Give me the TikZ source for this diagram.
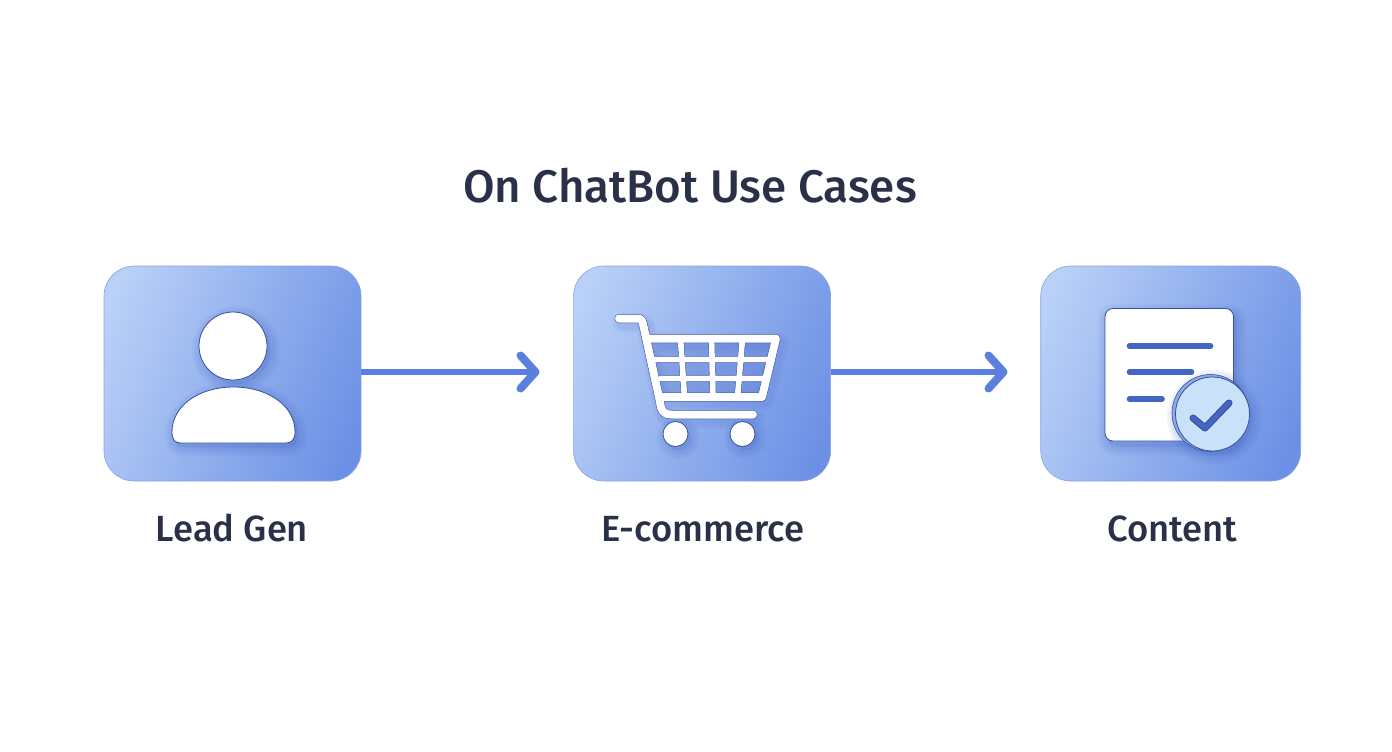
\documentclass[tikz,border=0pt]{standalone}
\usepackage{fontspec}
\setmainfont{Fira Sans Medium}
\usetikzlibrary{positioning,arrows.meta}
\definecolor{inkdark}{HTML}{2A3047}
\definecolor{tilelight}{HTML}{B9D0F7}
\definecolor{tiledark}{HTML}{6C90E5}
\definecolor{tileedge}{HTML}{85A3E4}
\definecolor{arrowblue}{HTML}{5B7FDD}
\definecolor{edgeblue}{HTML}{34509F}
\definecolor{linesblue}{HTML}{4565C4}
\definecolor{badgefill}{HTML}{C9E1F9}
\definecolor{badgering}{HTML}{8DAAE8}
\pgfdeclareverticalshading{tileshade}{100bp}{color(0bp)=(tiledark); color(22bp)=(tiledark); color(78bp)=(tilelight); color(100bp)=(tilelight)}
\tikzset{
  tile/.style={rounded corners=30pt,minimum width=257pt,minimum height=215pt,inner sep=0pt,
    draw=tileedge,line width=.6pt,shade,shading=tileshade,shading angle=68},
  tilelabel/.style={text=inkdark,font=\fontsize{36.4}{40}\selectfont,inner sep=0pt,anchor=base},
  flow/.style={draw=arrowblue,line width=6pt,-{Straight Barb[round,length=15pt,width=33pt,line width=8pt]}},
  whiteshape/.style={fill=white,draw=edgeblue,line width=.8pt},
  softglow/.style={draw=linesblue,opacity=.05,line cap=round,line join=round},
  frameedge/.style={draw=edgeblue,line width=9pt,line cap=round,line join=round},
  framebar/.style={draw=white,line width=8pt,line cap=round,line join=round},
  gridedge/.style={draw=edgeblue,line width=6.6pt},
  gridbar/.style={draw=white,line width=5.7pt},
  doclines/.style={draw=linesblue,line width=5.6pt,line cap=round},
}
\newcommand{\glowpath}[1]{\foreach \w in {4,8,12,16,20}{\draw[softglow,line width=\w pt,fill=linesblue,fill opacity=.03] #1;}}
\newcommand{\bodypath}{(172,432) .. controls (172,405) and (200,387) .. (233.5,387) .. controls (267,387) and (295,405) .. (295,432)
  .. controls (295,440) and (291,443) .. (286,443) -- (181,443) .. controls (175,443) and (172,440) .. (172,432) -- cycle}
\newcommand{\cartframe}{(619,318.5) -- (636,318.5) .. controls (641,318.5) and (642,320) .. (643,324) -- (660,402) .. controls (661,410) and (663,414.5) .. (671,414.5) -- (753,414.5)
  (648,338.5) -- (776,338.5) -- (762,397) -- (661,397)}
\newcommand{\cartgrid}{(654,359.5) -- (771.5,359.5) (659,378.5) -- (767,378.5)
  (680.5,338.5) -- (684.5,397) (711.5,338.5) -- (713,397) (742.5,338.5) -- (737.5,397)}
\begin{document}
\begin{tikzpicture}[x=1pt,y=-1pt]
\useasboundingbox (0,0) rectangle (1392,752);
% title
\node[text=inkdark,font=\fontsize{45.7}{50}\selectfont,inner sep=0pt,anchor=base] (title) at (690,202) {On ChatBot Use Cases};
% tiles
\node[tile] (leadtile) at (232.5,373.5) {};
\node[tile,right=212pt of leadtile] (shoptile) {};
\node[tile,right=209.5pt of shoptile,minimum width=260pt] (contenttile) {};
% labels
\node[tilelabel] (leadlabel) at (232,541) {Lead Gen};
\node[tilelabel] (shoplabel) at (702.5,541) {E-commerce};
\node[tilelabel] (contentlabel) at (1172.5,541) {Content};
% arrows
\coordinate (leadtip) at (539.5,372);
\coordinate (shoptip) at (1007.5,372);
\draw[flow] (leadtile.east |- leadtip) -- (leadtip);
\draw[flow] (shoptile.east |- shoptip) -- (shoptip);
% person
\begin{scope}[shift={(3,4)}]
\glowpath{(233,346) circle [radius=34]}
\glowpath{\bodypath}
\end{scope}
\draw[whiteshape] (233,346) circle [radius=34];
\draw[whiteshape] \bodypath;
% cart
\begin{scope}[shift={(3,4)}]
\glowpath{(675.5,434) circle [radius=12]}
\glowpath{(742.5,434) circle [radius=12]}
\foreach \w in {12,16,20}{\draw[softglow,line width=\w pt] \cartframe;}
\end{scope}
\fill[linesblue,opacity=.28] (648,338.5) -- (776,338.5) -- (762,397) -- (661,397) -- cycle;
\draw[gridedge] \cartgrid;
\draw[frameedge] \cartframe;
\draw[gridbar] \cartgrid;
\draw[framebar] \cartframe;
\foreach \cx in {675.5,742.5}{
  \draw[whiteshape] (\cx,434) circle [radius=12.5];
}
% document and badge
\begin{scope}[shift={(3,5)}]
\glowpath{[rounded corners=8pt] (1105,308.5) rectangle (1233.5,441)}
\end{scope}
\draw[whiteshape,rounded corners=8pt] (1105,308.5) rectangle (1233.5,441);
\foreach \ly/\lx in {346/1210.5,372/1191.5,399/1162}{
  \draw[doclines] (1129.5,\ly) -- (\lx,\ly);
}
\begin{scope}[shift={(3,5)}]
\glowpath{(1211.5,412.5) circle [radius=38]}
\end{scope}
\fill[badgering,draw=edgeblue,line width=.6pt] (1210.5,413) circle [radius=38.5];
\draw[fill=badgefill,draw=edgeblue,line width=.8pt] (1212.5,414) circle [radius=37];
\draw[edgeblue,line width=7pt,line cap=round,line join=round] (1193,418) -- (1205,428) -- (1229,403);
\draw[linesblue,line width=5pt,line cap=round,line join=round] (1193,418) -- (1205,428) -- (1229,403);
\end{tikzpicture}
\end{document}
